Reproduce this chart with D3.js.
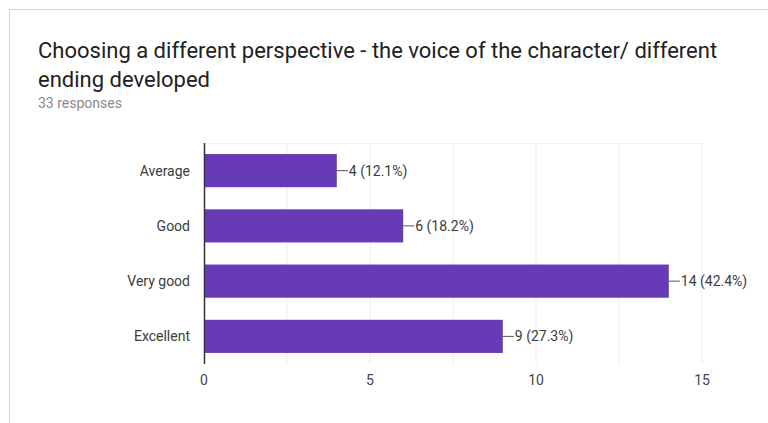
<!DOCTYPE html>
<html>
<head>
<meta charset="utf-8">
<script src="https://cdn.jsdelivr.net/npm/d3@7"></script>
<style>
  body { margin: 0; background: #fff; }
  svg { display: block; font-family: Roboto, Arial, sans-serif; }
</style>
</head>
<body>
<svg width="768" height="423"></svg>
<script>
var categories = ["Average", "Good", "Very good", "Excellent"];
var counts = [4, 6, 14, 9];
var percents = ["12.1%", "18.2%", "42.4%", "27.3%"];
var tickValues = [0, 5, 10, 15];
var gridValues = [2.5, 5, 7.5, 10, 12.5, 15];

var svg = d3.select("svg"),
    width = +svg.attr("width"),
    height = +svg.attr("height");

// card outline
svg.append("path")
    .attr("d", "M9.5,423 V9.5 H768")
    .attr("fill", "none")
    .attr("stroke", "#d6d6d6")
    .attr("stroke-width", 1);

// title
svg.append("text")
    .attr("x", 38).attr("y", 58)
    .attr("font-size", 22).attr("fill", "#212121")
    .text("Choosing a different perspective - the voice of the character/ different");
svg.append("text")
    .attr("x", 38).attr("y", 87)
    .attr("font-size", 22).attr("fill", "#212121")
    .text("ending developed");
svg.append("text")
    .attr("x", 38).attr("y", 108)
    .attr("font-size", 14).attr("fill", "#8a8a8a")
    .text("33 responses");

var x = d3.scaleLinear()
    .domain([0, 15])
    .range([204, 702])

var y = d3.scaleBand()
    .domain(categories)
    .range([143, 364])
    .paddingInner(0.4)
    .paddingOuter(0.2)

// gridlines
svg.append("g")
  .selectAll("line")
  .data(gridValues)
  .enter()
  .append("line")
    .attr("x1", function(d){ return x(d) })
    .attr("x2", function(d){ return x(d) })
    .attr("y1", 143).attr("y2", 364)
    .attr("stroke", "#ececec")
    .attr("stroke-width", 1)

svg.append("line")
    .attr("x1", 204).attr("x2", 702)
    .attr("y1", 143.5).attr("y2", 143.5)
    .attr("stroke", "#f2f2f2")

// bars
svg.append("g")
  .selectAll("rect")
  .data(counts)
  .enter()
  .append("rect")
    .attr("x", x(0))
    .attr("y", function(d, i){ return y(categories[i]) })
    .attr("width", function(d){ return x(d) - x(0) })
    .attr("height", y.bandwidth())
    .attr("fill", "#673ab7")

// value labels with leader lines
var labels = svg.append("g")
  .selectAll("g")
  .data(counts)
  .enter()
  .append("g")
    .attr("transform", function(d, i){ return "translate(" + x(d) + "," + (y(categories[i]) + y.bandwidth()/2) + ")" })

labels.append("line")
    .attr("x1", 0).attr("x2", 11)
    .attr("stroke", "#555").attr("stroke-width", 1)

labels.append("text")
    .attr("x", 12)
    .attr("dy", "0.35em")
    .attr("font-size", 14)
    .attr("fill", "#3c3c3c")
    .text(function(d, i){ return d + " (" + percents[i] + ")" })

// category labels
svg.append("g")
  .selectAll("text")
  .data(categories)
  .enter()
  .append("text")
    .attr("x", 190)
    .attr("y", function(d){ return y(d) + y.bandwidth()/2 })
    .attr("dy", "0.35em")
    .attr("text-anchor", "end")
    .attr("font-size", 14)
    .attr("fill", "#3c3c3c")
    .text(function(d){ return d })

// baseline axis
svg.append("line")
    .attr("x1", x(0) + 0.5).attr("x2", x(0) + 0.5)
    .attr("y1", 143).attr("y2", 364)
    .attr("stroke", "#333").attr("stroke-width", 1.5)

// x tick labels
svg.append("g")
  .selectAll("text")
  .data(tickValues)
  .enter()
  .append("text")
    .attr("x", function(d){ return x(d) })
    .attr("y", 380)
    .attr("dy", "0.35em")
    .attr("text-anchor", "middle")
    .attr("font-size", 14)
    .attr("fill", "#444")
    .text(function(d){ return d })
</script>
</body>
</html>
